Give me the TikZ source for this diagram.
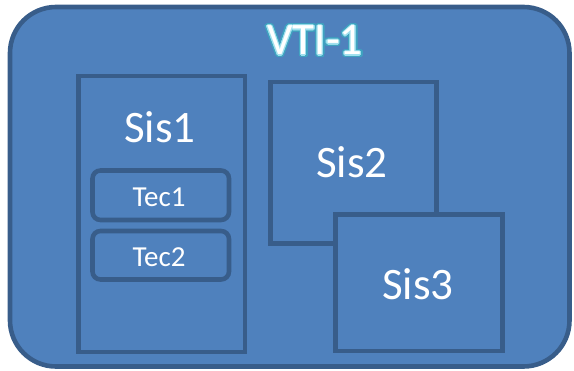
\documentclass[tikz,border=0pt]{standalone}
\usepackage{fontspec}
\usetikzlibrary{calc}
\setmainfont{Carlito}
\definecolor{boxfill}{HTML}{4F81BD}
\definecolor{boxline}{HTML}{385D8A}
\definecolor{glowout}{HTML}{3FA3C0}
\definecolor{glowin}{HTML}{9FE0EE}
\tikzset{
  panel/.style={draw=boxline, fill=boxfill, line width=4.6pt, inner sep=0pt},
  sisbox/.style={panel, rectangle},
  tecbox/.style={panel, rectangle, rounded corners=8pt},
  lbl/.style={text=white, inner sep=0pt, anchor=base},
  sislbl/.style={lbl, font=\fontsize{45}{45}\selectfont},
  teclbl/.style={lbl, font=\fontsize{29}{29}\selectfont},
  titlelbl/.style={lbl, font=\fontsize{45}{45}\selectfont},
}
\begin{document}
\begin{tikzpicture}[x=1pt, y=-1pt]
\useasboundingbox (0,0) rectangle (574,371);
% outer panel
\node[panel, rounded corners=46pt, minimum width=559.5pt, minimum height=359.5pt] (vti) at (289.75,186.75) {};
% title with a soft glow made of shifted copies
\foreach \r in {2.6,2.2,1.8} {
  \foreach \a in {0,30,...,330} {
    \node[titlelbl, text=glowout] at ($(315,55)+(\a:\r)$) {VTI-1};
  }
}
\foreach \a in {0,30,...,330} {
  \node[titlelbl, text=glowin] at ($(315,55)+(\a:1.1)$) {VTI-1};
}
\node[titlelbl] (title) at (315,55) {VTI-1};
% systems
\node[sisbox, minimum width=166.5pt, minimum height=276pt] (sis1) at (161.75,214) {};
\node[sisbox, minimum width=166pt, minimum height=161.5pt] (sis2) at (353.5,162.75) {};
\node[sisbox, minimum width=167pt, minimum height=136.5pt] (sis3) at (419,282.75) {};
% technologies inside Sis1
\node[tecbox, minimum width=136.5pt, minimum height=49.5pt] (tec1) at (160.75,195.25) {};
\node[tecbox, minimum width=136.5pt, minimum height=48.5pt] (tec2) at (160.75,255.25) {};
% labels
\node[sislbl] (sis1t) at (160,143) {Sis1};
\node[sislbl] (sis2t) at (352,178) {Sis2};
\node[sislbl] (sis3t) at (418,300) {Sis3};
\node[teclbl] (tec1t) at (159,207) {Tec1};
\node[teclbl] (tec2t) at (159,267) {Tec2};
\end{tikzpicture}
\end{document}
